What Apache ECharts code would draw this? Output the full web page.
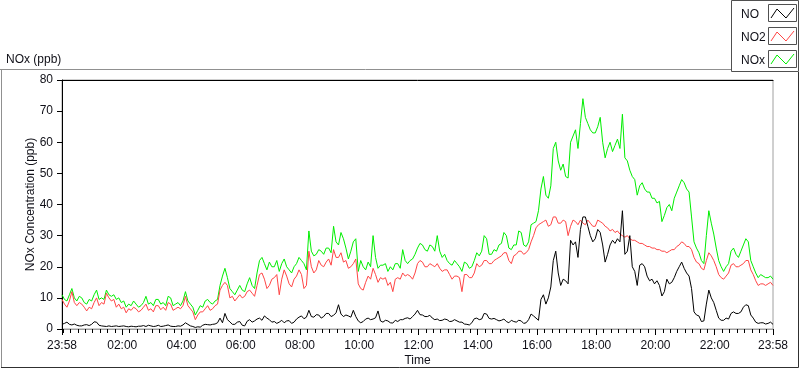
<!DOCTYPE html>
<html><head><meta charset="utf-8">
<script src="https://cdn.jsdelivr.net/npm/echarts@6/dist/echarts.min.js"></script>
<style>html,body{margin:0;padding:0;background:#fff}#c{width:800px;height:369px}</style>
</head><body><div id="c"></div>
<script>
// samples every 5 minutes starting at 23:58 (one row = one hour)
const sampleStepMin = 5;
const seriesNames = ['NO', 'NO2', 'NOx'];
const tickLabels = ['23:58','02:00','04:00','06:00','08:00','10:00','12:00','14:00','16:00','18:00','20:00','22:00','23:58'];
const yTicks = [0,10,20,30,40,50,60,70,80];

const NOx = [
11,9.5,9,11,13,10,9,10.5,10,8.5,8,9.5,
9,11,12.5,9.5,10,9.5,12.5,11,10.5,11,9.5,10,
8.5,9,7,8,7.5,9,8,7,7.5,8.5,10.5,8,
8.5,7.5,9.5,9.5,8,8.5,7.5,10.5,10,7.5,8,8.5,
7.5,9,12,9,8,7,4.5,6,7.5,7,9,9.5,
8.5,8,9,9.5,14,17,19.5,16.5,13,12,11,12.5,
14,12.5,12,14.5,16.5,14,13,18,22,23,21,19,
21.5,20,20,22,18.5,21,22.5,20,19,18,20,21,
23,22,21,19,31.5,25,23.5,24,25.5,25,24,26,
26,24.5,33,28,27,31,29,26,22.5,25,28,29,
18.5,22,20,19,21.5,20,30,23,19.5,20.5,20.5,21,
18.5,20,19,21,21,19.5,25.5,22,21,22,22.5,24,
26,27.5,27,25.5,25,27,26.5,25,30,25,23,24,
22,21,20.5,22,21,20,18.5,21.5,21,19.5,20,22,
24.5,23.5,25,30,29,24,24,25.5,25,27,27.5,31,
30,26,25.5,27,27,31.5,31,27,26.5,28,33.5,34,
34.5,38,45,49,43,42,46,58,60,54,51,53,
49,48.5,60,62,64,58,66,74,68,66,64,63,
63,65,68,60,55,58,60,57,59,61,58,69,
55,54,51,49,48,43,46,47,45,44,44,42,
42,40.5,41,34.5,36.5,39,40,38,42,44,46,48,
47,45,44,36,28,26,24.5,22,21,30,38,34,
30.5,26,22,20,18.5,20,21,25,26,24,23,25,
27,29,28,22,20,18,16.5,17.5,17,16.5,16.5,17,
16];
const NO2 = [
9.5,8,7,9,12,8.5,7.5,8.5,8,7,5.8,7,
6.5,8.5,10,7.5,8.5,8,11.5,10,9,9.5,7,8,
6.5,7,5.2,6.5,6,7,6.5,5.5,6,7,8,6,
6.5,5.5,7.5,7.5,6.2,7,6,8.5,8,6,6.5,7,
6.5,7.5,10.5,7.5,6.5,5.5,3,4.5,5.5,5.5,6.5,7.5,
6,6.5,7.5,8,12.5,14,15,14,10,10.5,9,10,
11,10,10.5,12,12.5,11.5,10.5,14,17.5,18,16,13,
14,16,16.5,17.5,11,16,19,17,14.5,13.5,16,17,
19,17.5,13,14,25,20,18,19,22,20.5,20,21.5,
22.5,20.5,25.5,23,23,24.5,21.5,22,19.5,20,21,22.5,
14.5,13,12.5,15,17,16,19.5,17.5,15,16.5,16,16.5,
14,15,12,16,16.5,16,18,17,17.5,17,16,18,
21,22,21.5,20,20,21,20.5,20,21,19.5,18.5,19,
19,17.5,16,17,17,16.5,12,17.5,17.5,16.5,16.5,18,
21,20,20.5,22,22,21,21,22,22.5,23,23.5,24.5,
24.5,22,21,23.5,24,25,25,24,24.5,25.5,28,30,
32.5,33.5,34,34.5,35,33,33.5,36,36,34,34,35,
34.5,30,33,35,34.5,33.5,35,34,33.5,35,34,33,
33,35,34.5,34,33,32.5,31.5,32,31,31.5,30.5,30,
29.5,30,29,28.5,28.5,28,27.5,27.5,27,26.5,26.5,26,
26,25.5,25.5,25,25,24.5,25,25.5,25.5,26.5,27,28,
27.5,26.5,26.5,25.5,23,21.5,21,19.5,19,22,24.5,23.5,
22,20,17.5,16.5,16,17,18,20.5,21,20,20,20.5,
21,22,22,19,17.5,15.5,14,14.5,14.5,14,14.5,15,
14];
const NO = [
1.5,1.8,2.2,1.5,1.3,1.6,1.2,1,1,1.3,1.4,1.1,
1.5,2.3,2.2,1.2,1,0.9,0.8,1,0.8,0.9,1,0.8,
0.9,1,0.8,0.7,0.9,0.8,0.7,0.9,0.9,1.1,0.8,1.2,
1,0.8,0.9,1.2,0.8,0.9,1.1,1.3,0.9,0.8,0.8,1,
0.9,1.3,2,1.5,1,0.8,0.5,0.7,0.6,1.2,1.5,1.4,
1.3,1.5,1.6,2,3.5,2,5,3,2.3,1.5,1.5,2.2,
2.4,1.2,1,2.5,3,2.2,2.6,3.2,3.5,2.8,4.2,3.5,
3,2.2,2.4,1.8,2.2,2.8,2,2.6,2.7,1.8,2.2,3.2,
3.8,4.2,3.3,3.8,6,4,3.8,4.6,4.5,3.5,4,5,
5,4,4.4,5.2,7.8,4.8,4,4.5,4.2,3.8,6,4,
2.6,2,2.4,3.2,3.5,3,3.2,3.6,5.8,2.6,2.2,2.8,
2.6,2,1.9,2.8,2.4,3,3,3.4,3.6,3.2,4,4.8,
6,4.6,4.5,4,4,4.4,3.5,3,3.2,2.7,2.8,3.2,
3,2.4,2.5,3,2.6,2.2,2.2,1.6,1.5,1.3,2,3.3,
3.5,3,3.2,5,4.8,3.4,3.2,3.4,3,2.6,2.8,3.2,
2.4,2,2.8,2.4,2.2,2.8,2.6,1.8,2,3,4.8,4.2,
3.5,2.8,9.5,11,8,10,13.5,22,25,18,14,16,
15.5,14.5,28.5,27,28,23,32,36,36,33,30,28,
29,32,31,27,21.5,24,27,28.5,27.5,29,28,38,
24,25,30,20,18.5,14,20.5,21,20,17,15.5,16,
14.5,15.5,14,10.6,12,16,14.5,15,16.5,18.5,20,21.5,
19.5,18,17,13,5.5,4.5,4.2,2.4,2.6,8,12.5,10,
8.5,6,3.5,2.8,2.8,3.5,3.2,5,5.5,5,5,5.5,
7,7.8,7.5,4.5,3.5,2.2,1.8,2,2,1.6,1.8,2.2,
1.5];

function toPairs(arr){ return arr.map((v,i)=>[i*sampleStepMin, v]); }
function labelToMin(s){ const [h,m]=s.split(':').map(Number); return (h*60+m+2) % 1440; }
const majorVals = tickLabels.map((s,i)=> i===tickLabels.length-1 ? 1440 : labelToMin(s));
const minorVals = [];
for (let t = 2; t < 1440; t += 15) { if (!majorVals.includes(t)) minorVals.push(t); }
function fmt(v){ const m = ((Math.round(v) - 2) % 1440 + 1440) % 1440; const h=Math.floor(m/60), mm=m%60; return String(h).padStart(2,'0')+':'+String(mm).padStart(2,'0'); }

const FONT = 'Liberation Sans';
const TXT = '#101018';
const chart = echarts.init(document.getElementById('c'), null, {renderer:'canvas'});
const gridRect = {left:62, right:27, top:80, bottom:40, outerBoundsMode:'none', containLabel:false};
chart.setOption({
  animation:false,
  textStyle:{fontFamily:FONT},
  title:{text:'NOx (ppb)', left:1, top:49, textStyle:{fontFamily:FONT, fontSize:12, fontWeight:'normal', color:TXT}},
  legend:{data:seriesNames, orient:'vertical', left:731, top:3, itemGap:10, icon:'none', itemWidth:0, itemHeight:14,
    textStyle:{fontFamily:FONT, fontSize:12, color:TXT}},
  grid:[Object.assign({show:true, borderColor:'#a0a0a0', borderWidth:1, backgroundColor:'#fff'}, gridRect),
        Object.assign({show:false}, gridRect)],
  xAxis:[
    {type:'value', gridIndex:0, min:0, max:1440, position:'bottom',
     name:'Time', nameLocation:'middle', nameGap:26, nameMoveOverlap:false, nameTextStyle:{fontFamily:FONT, fontSize:12, color:TXT},
     axisLine:{show:true, lineStyle:{color:'#a0a0a0', width:1}},
     axisTick:{show:true, length:6, lineStyle:{color:'#000', width:1}, customValues:majorVals},
     axisLabel:{customValues:majorVals, formatter:fmt, fontFamily:FONT, fontSize:12, color:TXT, margin:11},
     splitLine:{show:false}},
    {type:'value', gridIndex:1, min:0, max:1440, position:'bottom',
     axisLine:{show:false}, axisLabel:{show:false},
     axisTick:{show:true, length:4, lineStyle:{color:'#000', width:1}, customValues:minorVals},
     splitLine:{show:false}},
    {type:'value', gridIndex:1, min:0, max:1440, position:'top',
     axisLine:{show:true, lineStyle:{color:'#000', width:1}}, axisTick:{show:false}, axisLabel:{show:false}, splitLine:{show:false}}
  ],
  yAxis:[
    {type:'value', gridIndex:0, min:yTicks[0], max:yTicks[yTicks.length-1], interval:10,
     name:'NOx Concentration (ppb)', nameLocation:'middle', nameGap:25, nameRotate:90, nameMoveOverlap:false,
     nameTextStyle:{fontFamily:FONT, fontSize:12, color:TXT},
     axisLine:{show:true, lineStyle:{color:'#000', width:1}},
     axisTick:{show:true, length:5, lineStyle:{color:'#000'}},
     axisLabel:{fontFamily:FONT, fontSize:12, color:TXT, margin:9},
     splitLine:{show:false}},
    {type:'value', gridIndex:1, min:0, max:80, show:false}
  ],
  series:[
    {name:'NOx', type:'line', data:toPairs(NOx), showSymbol:false, symbol:'none', lineStyle:{color:'#00ee00', width:1}, itemStyle:{color:'#00ee00'}, z:2},
    {name:'NO2', type:'line', data:toPairs(NO2), showSymbol:false, symbol:'none', lineStyle:{color:'#ff4545', width:1}, itemStyle:{color:'#ff4545'}, z:3},
    {name:'NO', type:'line', data:toPairs(NO), showSymbol:false, symbol:'none', lineStyle:{color:'#000', width:1}, itemStyle:{color:'#000'}, z:4}
  ],
  graphic:[
    {type:'polyline', shape:{points:[[0,69.5],[731,69.5]]}, style:{stroke:'#909090', lineWidth:1, fill:null}},
    {type:'polyline', shape:{points:[[1.5,69.5],[1.5,368]]}, style:{stroke:'#909090', lineWidth:1, fill:null}},
    {type:'polyline', shape:{points:[[798.5,72],[798.5,367.5],[1,367.5]]}, style:{stroke:'#303030', lineWidth:1, fill:null}},
    {type:'rect', shape:{x:731.5, y:0.5, width:67, height:71}, style:{stroke:'#505050', lineWidth:1, fill:null}},
    {type:'rect', shape:{x:768.5, y:4.5, width:28, height:17}, style:{stroke:'#505050', lineWidth:1, fill:'#fff'}},
    {type:'polyline', shape:{points:[[771,18],[777,9],[786,18],[794,8]]}, style:{stroke:'#000', lineWidth:1, fill:null}},
    {type:'rect', shape:{x:768.5, y:27.5, width:28, height:17}, style:{stroke:'#505050', lineWidth:1, fill:'#fff'}},
    {type:'polyline', shape:{points:[[771,41],[777,32],[786,41],[794,31]]}, style:{stroke:'#ff4545', lineWidth:1, fill:null}},
    {type:'rect', shape:{x:768.5, y:50.5, width:28, height:17}, style:{stroke:'#505050', lineWidth:1, fill:'#fff'}},
    {type:'polyline', shape:{points:[[771,64],[777,55],[786,64],[794,54]]}, style:{stroke:'#00ee00', lineWidth:1, fill:null}}
  ]
});
</script></body></html>
